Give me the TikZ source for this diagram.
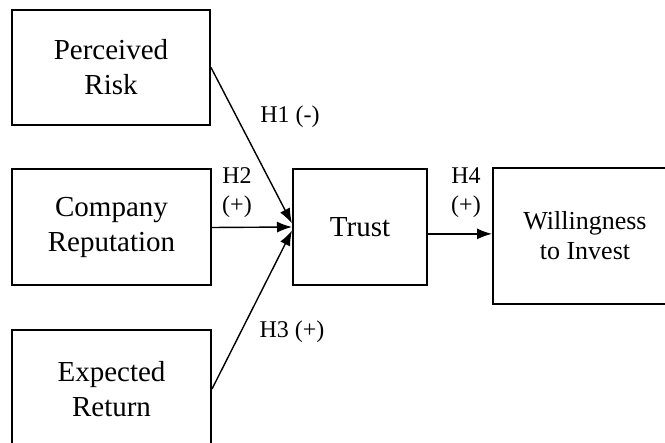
\documentclass[tikz,border=0pt]{standalone}
\usepackage{fontspec}
\setmainfont{Liberation Serif}
\usetikzlibrary{arrows.meta}

\begin{document}
\begin{tikzpicture}[x=1pt, y=1pt,
    box/.style={rectangle, draw, line width=2pt, align=center, font=\fontsize{29}{35}\selectfont},
    hyp/.style={align=center, font=\fontsize{24}{29}\selectfont},
    link/.style={-{Latex[length=15pt, width=11pt]}, line width=1.4pt}]
    \useasboundingbox (0,0) rectangle (665,-443);
    \clip (0,0) rectangle (665,-443);

    % Antecedents
    \node[box, minimum width=198pt, minimum height=115pt] (RISK) at (111,-67.5) {Perceived\\Risk};
    \node[box, minimum width=199pt, minimum height=116pt] (REPUTATION) at (111.5,-227.5) {Company\\Reputation};
    \node[box, minimum width=199pt, minimum height=118pt] (RETURN) at (111.5,-389) {Expected\\Return};

    % Mediator
    \node[box, minimum width=134pt, minimum height=116pt] (TRUST) at (360,-227) {Trust};

    % Outcome (box runs off the right edge)
    \node[box, minimum width=240pt, minimum height=136pt] (INVEST) at (613,-236) {};
    \node[align=center, font=\fontsize{26}{30}\selectfont] (INVESTTXT) at (585,-236) {Willingness\\to Invest};

    % Hypothesised paths
    \draw[link] (RISK.east) -- (TRUST.177);
    \draw[link] (REPUTATION.east) -- (TRUST.west);
    \draw[link] (RETURN.east) -- (TRUST.183);
    \draw[link] (TRUST.east |- INVEST.179) -- (INVEST.west |- INVEST.179);

    % Path labels
    \node[hyp] (H1) at (290,-117) {H1 (-)};
    \node[hyp] (H2) at (237,-193) {H2\\(+)};
    \node[hyp] (H3) at (292,-332) {H3 (+)};
    \node[hyp] (H4) at (466,-193) {H4\\(+)};
\end{tikzpicture}
\end{document}
